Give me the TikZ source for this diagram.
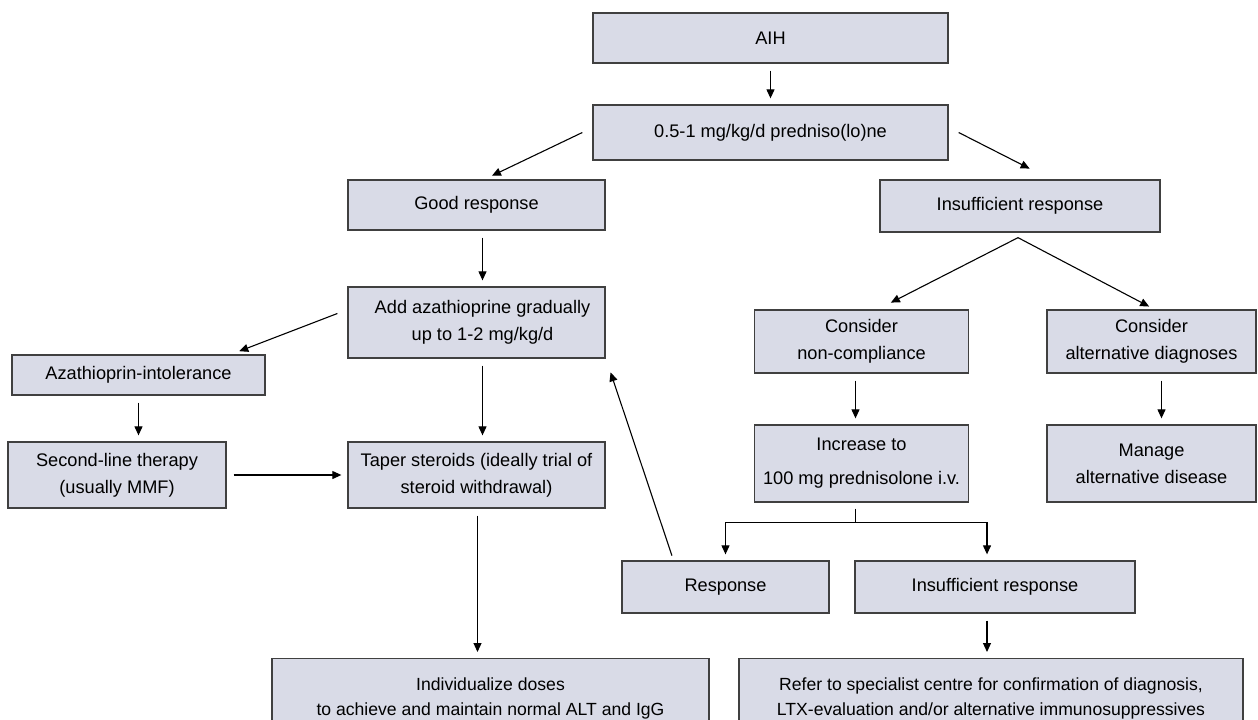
\documentclass[tikz,border=0pt]{standalone}
\usepackage{fontspec}
\setmainfont{Liberation Sans}
\usetikzlibrary{arrows.meta, positioning, calc}
\definecolor{boxfill}{RGB}{217, 219, 231}
\definecolor{boxline}{RGB}{64, 64, 64}

\begin{document}
\begin{tikzpicture}[x=1pt, y=1pt,
    box/.style  = {draw=boxline, fill=boxfill, line width=1.3pt, inner sep=0pt, align=center,
                   font=\fontsize{18.2}{27}\selectfont},
    lowbox/.style = {box, font=\fontsize{17.6}{25}\selectfont},
    arr/.style  = {-{Triangle[length=9pt, width=8pt]}, line width=1.1pt, shorten <=7pt, shorten >=6pt},
    elb/.style  = {-{Triangle[length=9pt, width=8pt]}, line width=1.1pt, shorten >=6pt},
  ]
    \useasboundingbox (0,0) rectangle (1258,-720);
    \clip (0,0) rectangle (1258,-720);

    % ── Top ──
    \node[box, minimum width=355, minimum height=50] (aih)  at (770.5, -38)   {AIH};
    \node[box, minimum width=355, minimum height=55] (pred) at (770.5, -132.5) {0.5-1 mg/kg/d predniso(lo)ne};

    % ── Left branch ──
    \node[box, minimum width=257, minimum height=50] (good)   at (476.5, -205)   {Good response};
    \node[box, minimum width=257, minimum height=71] (aza)    at (476.5, -322.5) {\hspace*{12pt}Add azathioprine gradually\\\hspace*{12pt}up to 1-2 mg/kg/d};
    \node[box, minimum width=253, minimum height=40] (intol)  at (138.5, -375)   {Azathioprin-intolerance};
    \node[box, minimum width=218, minimum height=66] (second) at (117, -475)     {Second-line therapy\\(usually MMF)};
    \node[box, minimum width=257, minimum height=66] (taper)  at (476.5, -475)   {Taper steroids (ideally trial of\\steroid withdrawal)};
    \node[lowbox, minimum width=437, minimum height=80, anchor=north] (indiv) at (490.5, -658)
         {Individualize doses\\to achieve and maintain normal ALT and IgG};

    % ── Right branch ──
    \node[box, minimum width=280, minimum height=52] (insuf)   at (1020, -206)    {Insufficient response};
    \node[box, minimum width=214, minimum height=63] (noncomp) at (861.5, -341.5) {Consider\\non-compliance};
    \node[box, minimum width=209, minimum height=63] (altdiag) at (1151.5, -341.5) {Consider\\alternative diagnoses};
    \node[box, minimum width=214, minimum height=77,
          font=\fontsize{18.2}{34}\selectfont] (incr)      at (861.5, -463.5) {Increase to\\100 mg prednisolone i.v.};
    \node[box, minimum width=209, minimum height=77] (manage)  at (1151.5, -463.5) {Manage\\alternative disease};
    \node[box, minimum width=207, minimum height=52] (resp)    at (725.5, -587)   {Response};
    \node[box, minimum width=280, minimum height=52] (insuf2)  at (995, -587)     {Insufficient response};
    \node[lowbox, minimum width=504, minimum height=80, anchor=north] (refer) at (991, -658)
         {Refer to specialist centre for confirmation of diagnosis,\\LTX-evaluation and/or alternative immunosuppressives};

    % ── Arrows ──
    \draw[arr] (aih) -- (pred);
    \draw[arr, shorten <=0pt] ([xshift=-10pt]pred.west) -- ([shift={(10pt,1pt)}]good.north);
    \draw[arr, shorten <=0pt] ([xshift=10pt]pred.east) -- ([shift={(15pt,8pt)}]insuf.north);
    \draw[arr] ([xshift=6pt]good.south) -- ([xshift=6pt]good.south |- aza.north);
    \draw[arr, shorten <=0pt] ([shift={(-10pt,9pt)}]aza.west) -- ([shift={(-32pt,1pt)}]intol.north east);
    \draw[arr] ([xshift=6pt]aza.south) -- ([xshift=6pt]aza.south |- taper.north);
    \draw[arr] (intol) -- (intol |- second.north);
    \draw[arr] (second) -- (taper);
    \draw[arr] ([xshift=1pt]taper.south) -- ([xshift=1pt]taper.south |- indiv.north);

    % ── Fork below the insufficient response ──
    \coordinate (fork) at ([shift={(-2pt,-5pt)}]insuf.south);
    \draw[arr, shorten <=0pt] (fork) -- ([shift={(24pt,4pt)}]noncomp.north);
    \draw[arr, shorten <=0pt] (fork) -- ([xshift=3pt]altdiag.north);
    \draw[arr] ([xshift=-6pt]noncomp.south) -- ([xshift=-6pt]noncomp.south |- incr.north);
    \draw[arr] ([xshift=10pt]altdiag.south) -- ([xshift=10pt]altdiag.south |- manage.north);

    % ── Split below the i.v. box ──
    \coordinate (split) at ([shift={(-6pt,-20pt)}]incr.south);
    \draw[line width=1.1pt] ([shift={(-6pt,-6pt)}]incr.south) -- (split);
    \draw[elb] (split) -| (resp.north);
    \draw[elb] (split) -| ([xshift=-8pt]insuf2.north);
    \draw[arr, shorten <=5pt] ([xshift=-52pt]resp.north) -- ([shift={(3pt,-8pt)}]aza.south east);
    \draw[arr] ([xshift=-8pt]insuf2.south) -- ([xshift=-8pt]insuf2.south |- refer.north);
  \end{tikzpicture}
\end{document}
